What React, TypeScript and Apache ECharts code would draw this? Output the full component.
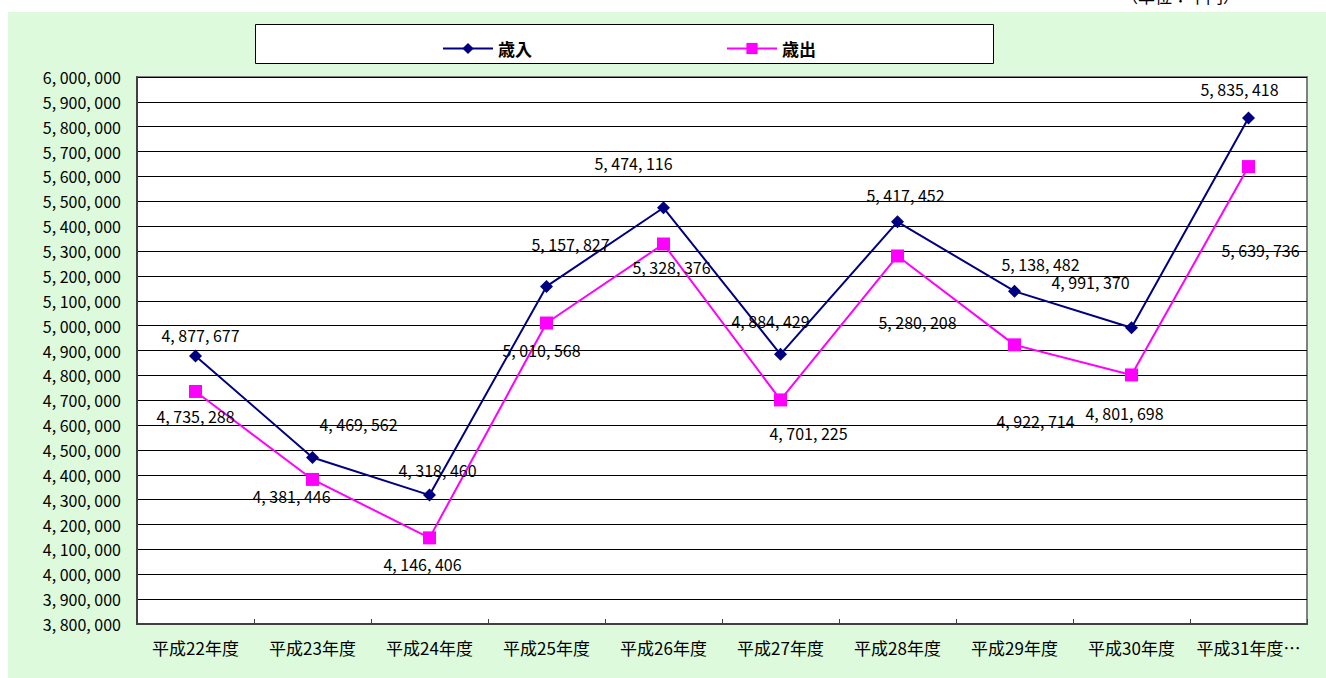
import React, { useEffect, useRef } from "react";
import * as echarts from "echarts";

const categories = [
  "平成22年度",
  "平成23年度",
  "平成24年度",
  "平成25年度",
  "平成26年度",
  "平成27年度",
  "平成28年度",
  "平成29年度",
  "平成30年度",
  "平成31年度…",
];
const revenue = [4877677, 4469562, 4318460, 5157827, 5474116, 4884429, 5417452, 5138482, 4991370, 5835418];
const expenditure = [4735288, 4381446, 4146406, 5010568, 5328376, 4701225, 5280208, 4922714, 4801698, 5639736];
const seriesNames = ["歳入", "歳出"];
const unitText = "（単位：千円）";

// label placement (pixel offsets of each label from its point)
const revenueLabelOffsets = [
  [5, -21], [46, -34], [8, -25], [24, -42], [-30, -45],
  [-10, -33], [8, -27], [26, -27], [-41, -46], [-9, -29],
];
const expenditureLabelOffsets = [
  [0, 25], [-21, 17], [-7, 26], [-5, 27], [8, 23],
  [28, 33], [20, 66], [21, 76], [-7, 38], [12, 83],
];

const FONT = "'Noto Sans CJK JP', sans-serif";

const fmt = (v: number) => {
  const s = Math.round(v).toString();
  return s.replace(/\B(?=(\d{3})+(?!\d))/g, ", ");
};

export default function App() {
  const ref = useRef<HTMLDivElement>(null);
  useEffect(() => {
    if (!ref.current) return;
    const chart = echarts.init(ref.current, undefined, { renderer: "svg" });
    const mkData = (vals: number[], offs: number[][]) =>
      vals.map((v, i) => ({
        value: v,
        label: { position: "inside", offset: offs[i] },
      }));
    const labelStyle = {
      show: true,
      color: "#000",
      fontSize: 16,
      fontFamily: FONT,
      formatter: (p: any) => fmt(p.value),
    };
    chart.setOption({
      animation: false,
      backgroundColor: "#ffffff",
      textStyle: { fontFamily: FONT },
      graphic: [
        {
          type: "rect",
          z: -10,
          shape: { x: 8, y: 12, width: 1318, height: 666 },
          style: { fill: "#DDFBDC" },
          silent: true,
        },
        {
          type: "rect",
          z: -5,
          shape: { x: 255.5, y: 24.5, width: 738, height: 39 },
          style: { fill: "#ffffff", stroke: "#000000", lineWidth: 1 },
          silent: true,
        },
        {
          type: "text",
          x: 1240,
          y: 4,
          style: {
            text: unitText,
            align: "right",
            verticalAlign: "bottom",
            fontSize: 17,
            fontFamily: FONT,
            fill: "#000",
          },
        },
      ],
      legend: {
        data: seriesNames,
        left: 437,
        top: 35,
        itemWidth: 50,
        itemHeight: 14,
        itemGap: 194,
        textStyle: { fontSize: 17, color: "#000", fontFamily: FONT, fontWeight: "bold" },
      },
      grid: {
        left: 137,
        top: 77,
        right: 19,
        bottom: 54,
        show: true,
        backgroundColor: "#ffffff",
        borderColor: "#808080",
        borderWidth: 2,
      },
      xAxis: {
        type: "category",
        data: categories,
        boundaryGap: true,
        axisLine: { lineStyle: { color: "#404040", width: 2 } },
        axisTick: { show: true, inside: true, length: 5, lineStyle: { color: "#404040" } },
        axisLabel: { color: "#000", fontSize: 17, fontFamily: FONT, margin: 15, interval: 0 },
      },
      yAxis: {
        type: "value",
        min: 3800000,
        max: 6000000,
        interval: 100000,
        axisLine: { show: true, lineStyle: { color: "#404040", width: 2 } },
        axisTick: { show: false },
        splitLine: { show: true, lineStyle: { color: "#000000", width: 1 } },
        axisLabel: {
          color: "#000",
          fontSize: 16,
          fontFamily: FONT,
          margin: 16,
          formatter: (v: number) => fmt(v),
        },
      },
      series: [
        {
          name: seriesNames[0],
          type: "line",
          data: mkData(revenue, revenueLabelOffsets),
          symbol: "diamond",
          symbolSize: 13,
          itemStyle: { color: "#000080" },
          lineStyle: { color: "#000080", width: 2 },
          label: labelStyle,
          z: 3,
        },
        {
          name: seriesNames[1],
          type: "line",
          data: mkData(expenditure, expenditureLabelOffsets),
          symbol: "rect",
          symbolSize: 13,
          itemStyle: { color: "#FF00FF" },
          lineStyle: { color: "#FF00FF", width: 2 },
          label: labelStyle,
          z: 2,
        },
      ],
    });
    return () => chart.dispose();
  }, []);
  return (
    <div
      ref={ref}
      style={{ position: "fixed", left: 0, top: 0, width: 1326, height: 678 }}
    />
  );
}
